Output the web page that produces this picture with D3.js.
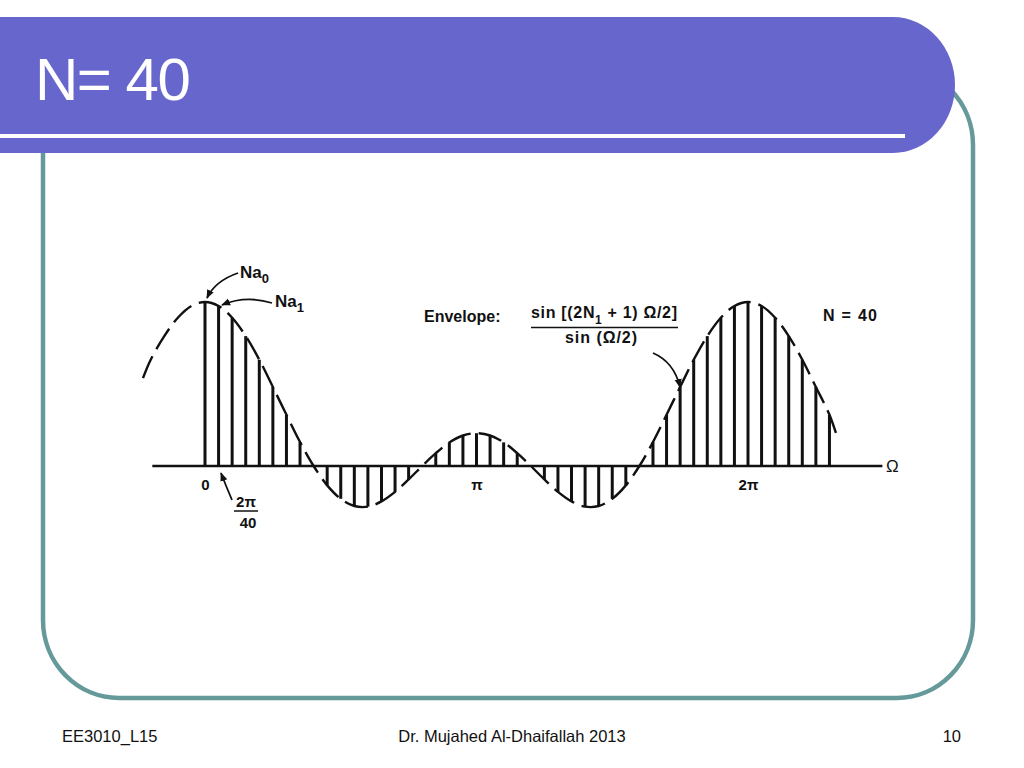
<!DOCTYPE html>
<html>
<head>
<meta charset="utf-8">
<script src="https://cdn.jsdelivr.net/npm/d3@7"></script>
<style>
  html, body { margin: 0; padding: 0; background: #fff; }
  svg { display: block; }
  text { font-family: "Liberation Sans", Arial, sans-serif; }
</style>
</head>
<body>
<svg id="chart" width="1024" height="768"></svg>
<script>
// ---------------- data ----------------
const title = "N= 40";
const footerLeft = "EE3010_L15";
const footerCenter = "Dr. Mujahed Al-Dhaifallah 2013";
const footerRight = "10";

// sample index k (Ω = 2πk/40) and stem heights
const stemK = [0,1,2,3,4,5,6,7,8,9,10,11,12,13,14,15,16,17,18,19,20,21,22,23,24,25,26,27,28,29,30,31,32,33,34,35,36,37,38,39,40,41,42,43,44,45,46];
const stemValues = [5.00,4.88,4.52,3.96,3.24,2.41,1.56,0.73,0.00,-0.59,-1.00,-1.22,-1.24,-1.08,-0.79,-0.41,0.00,0.39,0.72,0.93,1.00,0.93,0.72,0.39,0.00,-0.41,-0.79,-1.08,-1.24,-1.22,-1.00,-0.59,0.00,0.73,1.56,2.41,3.24,3.96,4.52,4.88,5.00,4.88,4.52,3.96,3.24,2.41,1.56];

// dashed envelope points
const envelopeK = [-4.57,-4,-3,-2,-1,0,1,2,3,4,5,6,7,8,9,10,11,12,13,14,15,16,17,18,19,20,21,22,23,24,25,26,27,28,29,30,31,32,33,34,35,36,37,38,39,40,41,42,43,44,45,46,46.6];
const envelopeValues = [2.68,3.24,3.96,4.52,4.88,5.00,4.88,4.52,3.96,3.24,2.41,1.56,0.73,0.00,-0.59,-1.00,-1.22,-1.24,-1.08,-0.79,-0.41,0.00,0.39,0.72,0.93,1.00,0.93,0.72,0.39,0.00,-0.41,-0.79,-1.08,-1.24,-1.22,-1.00,-0.59,0.00,0.73,1.56,2.41,3.24,3.96,4.52,4.88,5.00,4.88,4.52,3.96,3.24,2.41,1.56,0.85];

const tickK = [0, 20, 40];
const tickLabels = ["0", "π", "2π"];
const axisExtentK = [-3.88, 49.9];

// ---------------- drawing ----------------
const svg = d3.select("#chart");
const purple = "#6666CC";
const teal = "#669999";

// frame (rounded rectangle)
svg.append("rect")
  .attr("x", 43).attr("y", 67).attr("width", 930).attr("height", 631)
  .attr("rx", 76).attr("ry", 78)
  .attr("fill", "none").attr("stroke", teal).attr("stroke-width", 4.5);

// title bar
svg.append("path")
  .attr("d", "M0,17 H893 A62,68 0 0 1 893,153 H0 Z")
  .attr("fill", purple);
svg.append("rect")
  .attr("x", 0).attr("y", 134).attr("width", 905).attr("height", 4)
  .attr("fill", "#fff");
svg.append("text")
  .attr("x", 35).attr("y", 100)
  .attr("fill", "#fff").attr("font-size", 60)
  .attr("letter-spacing", -1.5)
  .text(title);

// footer
svg.append("text").attr("x", 62).attr("y", 742).attr("font-size", 16.5).attr("fill", "#111").text(footerLeft);
svg.append("text").attr("x", 512).attr("y", 742).attr("font-size", 16.5).attr("fill", "#111").attr("text-anchor", "middle").text(footerCenter);
svg.append("text").attr("x", 961).attr("y", 742).attr("font-size", 16.5).attr("fill", "#111").attr("text-anchor", "end").text(footerRight);

// scales
const x = d3.scaleLinear().domain([0, 40]).range([205, 748]);
const y = d3.scaleLinear().domain([0, 5]).range([466, 302]);

const g = svg.append("g");

// axis line
g.append("line")
  .attr("x1", x(axisExtentK[0])).attr("x2", x(axisExtentK[1]))
  .attr("y1", y(0)).attr("y2", y(0))
  .attr("stroke", "#111").attr("stroke-width", 2.4);

// tick labels via axis
const axis = d3.axisBottom(x).tickValues(tickK).tickFormat((d, i) => tickLabels[i]).tickSize(0).tickPadding(13);
const ax = g.append("g").attr("transform", `translate(0,${y(0)})`).call(axis);
ax.select(".domain").remove();
ax.selectAll("text")
  .attr("font-family", "Liberation Sans, Arial, sans-serif")
  .attr("font-size", 15).attr("font-weight", "bold").attr("fill", "#111");

// stems
g.selectAll("line.stem")
  .data(stemK.map((k, i) => ({ k, v: stemValues[i] })).filter(d => d.v !== 0))
  .join("line")
  .attr("class", "stem")
  .attr("x1", d => x(d.k)).attr("x2", d => x(d.k))
  .attr("y1", y(0)).attr("y2", d => y(d.v))
  .attr("stroke", "#111").attr("stroke-width", 3);

// envelope
const env = envelopeK.map((k, i) => [k, envelopeValues[i]]);
g.append("path")
  .datum(env)
  .attr("d", d3.line().x(d => x(d[0])).y(d => y(d[1])).curve(d3.curveCatmullRom))
  .attr("fill", "none").attr("stroke", "#111").attr("stroke-width", 2.4)
  .attr("stroke-dasharray", "24,8");

// Ω label
g.append("text").attr("x", 886).attr("y", 472).attr("font-size", 17).attr("fill", "#111").text("Ω");

// arrow marker
svg.append("defs").append("marker")
  .attr("id", "arr").attr("viewBox", "0 0 10 10").attr("refX", 9).attr("refY", 5)
  .attr("markerWidth", 9).attr("markerHeight", 9).attr("markerUnits", "userSpaceOnUse")
  .attr("orient", "auto")
  .append("path").attr("d", "M0,1 L10,5 L0,9 Z").attr("fill", "#111");

const arrows = [
  "M238,273 Q215,281 207,298",
  "M272,303 Q246,295 222,305",
  "M232,500 Q226,486 221,473",
  "M653,353 Q674,362 680,387"
];
g.selectAll("path.arrow").data(arrows).join("path")
  .attr("class", "arrow").attr("d", d => d)
  .attr("fill", "none").attr("stroke", "#111").attr("stroke-width", 1.8)
  .attr("marker-end", "url(#arr)");

// Na0, Na1 labels
function subLabel(xp, yp, main, sub) {
  const t = g.append("text").attr("x", xp).attr("y", yp)
    .attr("font-size", 17).attr("font-weight", "bold").attr("fill", "#111");
  t.append("tspan").text(main);
  t.append("tspan").attr("font-size", 13).attr("dy", 5).text(sub);
}
subLabel(240, 278, "Na", "0");
subLabel(275, 307, "Na", "1");

// 2π/40 fraction
g.append("text").attr("x", 246).attr("y", 507).attr("text-anchor", "middle")
  .attr("font-size", 15).attr("font-weight", "bold").attr("fill", "#111").text("2π");
g.append("line").attr("x1", 234).attr("x2", 258).attr("y1", 511).attr("y2", 511)
  .attr("stroke", "#111").attr("stroke-width", 1.5);
g.append("text").attr("x", 248).attr("y", 528).attr("text-anchor", "middle")
  .attr("font-size", 15).attr("font-weight", "bold").attr("fill", "#111").text("40");

// Envelope label and formula
g.append("text").attr("x", 424).attr("y", 322)
  .attr("font-size", 16).attr("font-weight", "bold").attr("fill", "#111").text("Envelope:");
const num = g.append("text").attr("x", 531).attr("y", 318)
  .attr("font-size", 16).attr("font-weight", "bold").attr("fill", "#111")
  .attr("textLength", 146).attr("lengthAdjust", "spacing");
num.append("tspan").text("sin [(2N");
num.append("tspan").attr("font-size", 12).attr("dy", 6).text("1");
num.append("tspan").attr("dy", -6).text(" + 1) Ω/2]");
g.append("line").attr("x1", 531).attr("x2", 678).attr("y1", 327.5).attr("y2", 327.5)
  .attr("stroke", "#111").attr("stroke-width", 1.5);
g.append("text").attr("x", 565).attr("y", 343)
  .attr("font-size", 16).attr("font-weight", "bold").attr("fill", "#111")
  .attr("textLength", 72).attr("lengthAdjust", "spacing").text("sin (Ω/2)");

g.append("text").attr("x", 823).attr("y", 321)
  .attr("font-size", 16).attr("font-weight", "bold").attr("fill", "#111")
  .attr("textLength", 54).attr("lengthAdjust", "spacing").text("N = 40");
</script>
</body>
</html>
